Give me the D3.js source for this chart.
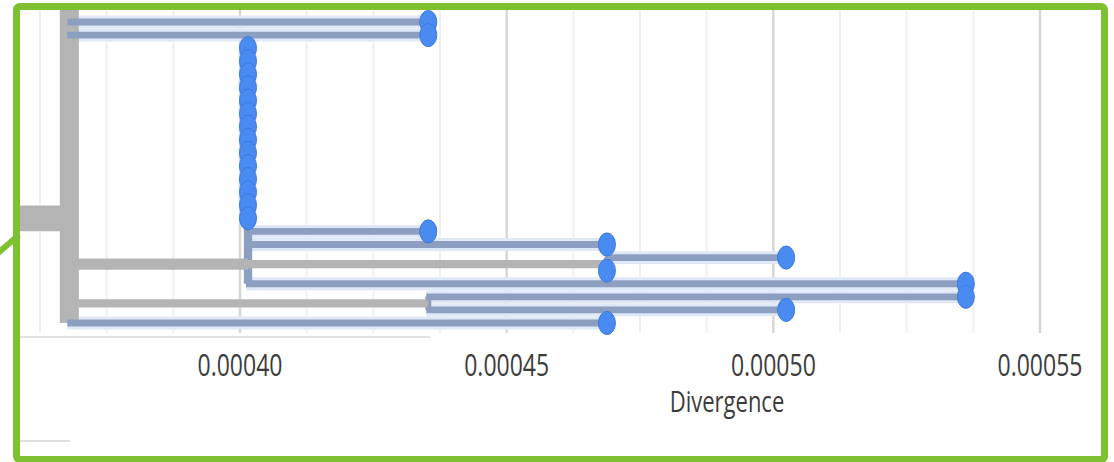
<!DOCTYPE html>
<html>
<head>
<meta charset="utf-8">
<script src="https://cdn.jsdelivr.net/npm/d3@7"></script>
<style>
body { margin: 0; background: #fff; }
svg { display: block; }
</style>
</head>
<body>
<div id="tree"></div>
<script>
// Tree nodes (parallel arrays)
var nodeIds = ["base", "root", "up", "t0", "t1", "n1",
    "s2", "s3", "s4", "s5", "s6", "s7", "s8", "s9", "s10", "s11", "s12", "s13", "s14", "s15",
    "t16", "t17", "n2", "t18", "t19", "t20", "n3", "t21", "t22", "t23"];
var parentIds = [null, "base", "root", "root", "root", "root",
    "n1", "n1", "n1", "n1", "n1", "n1", "n1", "n1", "n1", "n1", "n1", "n1", "n1", "n1",
    "n1", "n1", "n1", "n2", "n2", "n1", "root", "n3", "n3", "root"];
var divergence = [0.00034, 0.000368, 0.00045, 0.0004353, 0.0004353, 0.0004015,
    0.0004015, 0.0004015, 0.0004015, 0.0004015, 0.0004015, 0.0004015, 0.0004015,
    0.0004015, 0.0004015, 0.0004015, 0.0004015, 0.0004015, 0.0004015, 0.0004015,
    0.0004353, 0.0004688, 0.0004688, 0.0005024, 0.0004688, 0.0005361,
    0.0004353, 0.0005361, 0.0005024, 0.0004688];
var rows = [15, 15, -3, 0, 1, 18.5,
    2, 3, 4, 5, 6, 7, 8, 9, 10, 11, 12, 13, 14, 15,
    16, 17, 18.5, 18, 19, 20, 21.5, 21, 22, 23];

// Colour groups
var greyBranches = ["root", "n1", "n2", "n3"];
var greyBars = ["root"];

// Axis
var tickValues = [0.00040, 0.00045, 0.00050, 0.00055];
var minorStep = 0.0000125;
var axisTitle = "Divergence";

// SVG
var svgWidth = 1114;
var svgHeight = 462;
var stretch = 1.36;   // the screenshot is squashed sideways

var svg = d3.select("#tree")
    .append("svg")
    .attr("width", svgWidth)
    .attr("height", svgHeight);

svg.append("clipPath")
    .attr("id", "inner")
    .append("rect")
    .attr("x", 20)
    .attr("y", 10)
    .attr("width", 1081)
    .attr("height", 446);

var nodes = nodeIds.map(function (id, i) {
    return { id: id, parent: parentIds[i], div: divergence[i], row: rows[i] };
});
var byId = {};
nodes.forEach(d => { byId[d.id] = d; d.children = []; });
nodes.forEach(d => { if (d.parent) byId[d.parent].children.push(d); });

// Scales
var xScale = d3.scaleLinear()
    .domain([0.00040, 0.00055])
    .range([240, 1040]);
var yScale = d3.scaleLinear()
    .domain([0, 23])
    .range([22, 323]);

function tipCount(d) {
    return d.children.length ? d3.sum(d.children, tipCount) : 1;
}
var widthScale = d3.scaleLinear().domain([1, 2, 20]).range([5, 6, 8.5]);
function branchWidth(d) {
    return d.id === "root" ? 19 : widthScale(tipCount(d));
}

var plot = svg.append("g").attr("clip-path", "url(#inner)");

// Grid
var minor = d3.range(-3, 15).map(i => 0.00040 + i * minorStep);
plot.selectAll(".minor")
    .data(minor.filter(v => tickValues.every(t => Math.abs(t - v) > 1e-9)))
    .enter()
    .append("line")
    .attr("x1", d => xScale(d))
    .attr("x2", d => xScale(d))
    .attr("y1", 10)
    .attr("y2", 333)
    .attr("stroke", "#eeeeee")
    .attr("stroke-width", 1.8);

plot.selectAll(".major")
    .data(tickValues)
    .enter()
    .append("line")
    .attr("x1", d => xScale(d))
    .attr("x2", d => xScale(d))
    .attr("y1", 10)
    .attr("y2", 333)
    .attr("stroke", "#d6d6d6")
    .attr("stroke-width", 2.4);

// leftover axis rules
plot.append("line")
    .attr("x1", 20).attr("x2", 430)
    .attr("y1", 337).attr("y2", 337)
    .attr("stroke", "#e2e2e2")
    .attr("stroke-width", 2);
plot.append("line")
    .attr("x1", 20).attr("x2", 70)
    .attr("y1", 441).attr("y2", 441)
    .attr("stroke", "#d2d2d2")
    .attr("stroke-width", 1.5);

var drawn = nodes.filter(d => d.parent);

// Halo under blue branches
plot.selectAll(".halo")
    .data(drawn.filter(d => greyBranches.indexOf(d.id) < 0))
    .enter()
    .append("line")
    .attr("x1", d => xScale(byId[d.parent].div) - 2)
    .attr("x2", d => xScale(d.div))
    .attr("y1", d => yScale(d.row))
    .attr("y2", d => yScale(d.row))
    .attr("stroke", "#dfe8f6")
    .attr("stroke-width", d => branchWidth(d) * stretch + 6);

// Vertical bars
var internal = nodes.filter(d => d.children.length && d.parent);
plot.selectAll(".bar")
    .data(internal)
    .enter()
    .append("line")
    .attr("x1", d => xScale(d.div))
    .attr("x2", d => xScale(d.div))
    .attr("y1", d => yScale(d3.min(d.children, c => c.row)))
    .attr("y2", d => yScale(d3.max(d.children, c => c.row)))
    .attr("stroke", d => greyBars.indexOf(d.id) >= 0 ? "#b4b4b4" : "#8d9fc0")
    .attr("stroke-width", d => branchWidth(d));

// Horizontal branches
plot.selectAll(".branch")
    .data(drawn)
    .enter()
    .append("line")
    .attr("x1", d => xScale(byId[d.parent].div) - 2)
    .attr("x2", d => xScale(d.div))
    .attr("y1", d => yScale(d.row))
    .attr("y2", d => yScale(d.row))
    .attr("stroke", d => greyBranches.indexOf(d.id) >= 0 ? "#b4b4b4" : "#8d9fc0")
    .attr("stroke-width", d => branchWidth(d) * stretch);

// Tips
plot.selectAll(".tip")
    .data(drawn.filter(d => !d.children.length))
    .enter()
    .append("ellipse")
    .attr("cx", d => xScale(d.div))
    .attr("cy", d => yScale(d.row))
    .attr("rx", 8.5)
    .attr("ry", 8.5 * stretch)
    .attr("fill", "#4a8bf2")
    .attr("stroke", "#3a78e0")
    .attr("stroke-width", 1);

// Tick labels
svg.selectAll(".tick")
    .data(tickValues)
    .enter()
    .append("text")
    .attr("transform", d => `translate(${xScale(d)}, 376) scale(1, ${stretch})`)
    .attr("text-anchor", "middle")
    .attr("font-family", "Open Sans")
    .attr("font-size", 23)
    .attr("fill", "#3c3c3c")
    .text(d => d3.format(".5f")(d));

svg.append("text")
    .attr("transform", `translate(727, 412) scale(1, ${stretch})`)
    .attr("text-anchor", "middle")
    .attr("font-family", "Open Sans")
    .attr("font-size", 22)
    .attr("fill", "#3c3c3c")
    .text(axisTitle);

// Green highlight frame
svg.append("rect")
    .attr("x", 16.5)
    .attr("y", 6.5)
    .attr("width", 1088)
    .attr("height", 453)
    .attr("rx", 3)
    .attr("fill", "none")
    .attr("stroke", "#7fc031")
    .attr("stroke-width", 7);

svg.append("line")
    .attr("x1", -2).attr("y1", 253)
    .attr("x2", 19).attr("y2", 235)
    .attr("stroke", "#7fc031")
    .attr("stroke-width", 6);
</script>
</body>
</html>
